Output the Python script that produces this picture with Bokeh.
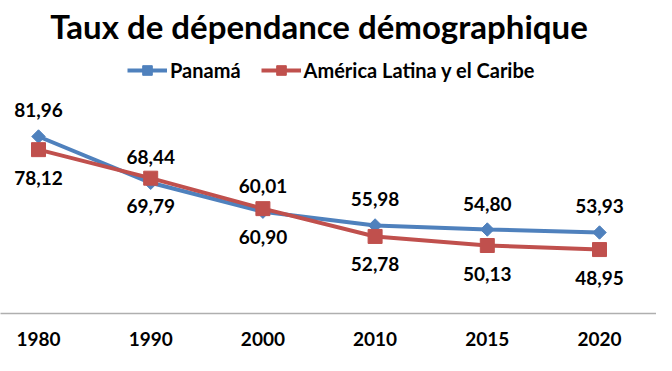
import math
from bokeh.plotting import figure
from bokeh.models import Range1d, FixedTicker, Legend, LegendItem, ColumnDataSource
from bokeh.core.properties import value
from bokeh.embed import file_html
from bokeh.resources import INLINE

# ---- data ----
years = ["1980", "1990", "2000", "2010", "2015", "2020"]
panama = [81.96, 68.44, 60.01, 55.98, 54.80, 53.93]
alc = [78.12, 69.79, 60.90, 52.78, 50.13, 48.95]
title_text = "Taux de dépendance démographique"
series_names = ["Panamá", "América Latina y el Caribe"]

BLUE = "#4F81BD"
RED = "#C0504D"
FONT = "Lato"

x = list(range(len(years)))

def fmt(v):
    return f"{v:.2f}".replace(".", ",")

FRAME_H = 313
SCALE = 3.425
Y0 = 30.28
Y1 = Y0 + FRAME_H / SCALE

def ydata(py):
    return Y0 + (FRAME_H - py) / SCALE

src_p = ColumnDataSource(dict(x=x, y=panama, lab=[fmt(v) for v in panama]))
src_a = ColumnDataSource(dict(x=x, y=alc, lab=[fmt(v) for v in alc]))

p = figure(width=656, height=355, x_range=Range1d(-0.3387, 5.508), y_range=Range1d(Y0, Y1),
           y_axis_location=None, toolbar_location=None, output_backend="svg",
           min_border_left=0, min_border_right=0, min_border_top=0,
           min_border_bottom=355 - FRAME_H)
p.outline_line_color = None
p.xgrid.visible = False
p.ygrid.visible = False

xa = p.xaxis[0]
xa.ticker = FixedTicker(ticks=x)
xa.major_label_overrides = {i: y for i, y in zip(x, years)}
xa.major_tick_line_color = None
xa.minor_tick_line_color = None
xa.axis_line_color = "#AFAFAF"
xa.axis_line_width = 1.5
xa.major_label_text_font = FONT
xa.major_label_text_font_style = "bold"
xa.major_label_text_font_size = "19px"
xa.major_label_text_color = "#000000"
xa.major_label_standoff = 12

lp = p.line("x", "y", source=src_p, line_color=BLUE, line_width=4)
mp = p.scatter("x", "y", source=src_p, marker="square", angle=math.pi / 4, size=9.5,
               fill_color=BLUE, line_color=BLUE)
la = p.line("x", "y", source=src_a, line_color=RED, line_width=4)
ma = p.scatter("x", "y", source=src_a, marker="square", size=14,
               fill_color=RED, line_color=RED)

p.text("x", "y", text="lab", source=src_p, y_offset=-26, text_align="center",
       text_baseline="middle", text_font=value(FONT), text_font_style="bold",
       text_font_size="19px", text_color="#000000")
p.text("x", "y", text="lab", source=src_a, y_offset=28, text_align="center",
       text_baseline="middle", text_font=value(FONT), text_font_style="bold",
       text_font_size="19px", text_color="#000000")

p.text(x=[2.5], y=[ydata(25)], text=[title_text], text_align="center",
       text_baseline="alphabetic", text_font=value(FONT), text_font_style="bold",
       text_font_size="33px", text_color="#000000")

legend = Legend(items=[LegendItem(label=series_names[0], renderers=[lp, mp]),
                       LegendItem(label=series_names[1], renderers=[la, ma])],
                orientation="horizontal", location=(127, 231),
                padding=0, margin=0, spacing=20, glyph_width=40, glyph_height=24,
                label_standoff=3, border_line_color=None, background_fill_alpha=0,
                label_text_font=FONT, label_text_font_style="bold",
                label_text_font_size="20px", label_text_color="#000000")
p.add_layout(legend, "center")

open("out.html", "w").write(file_html(p, INLINE))
